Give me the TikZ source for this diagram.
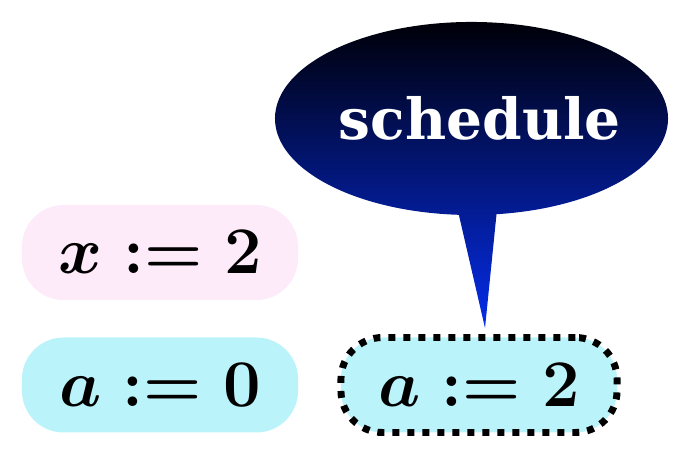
\RequirePackage{fix-cm}
\documentclass[tikz,border=0pt]{standalone}
\usepackage{amsmath,amssymb}
\usepackage{fontspec}
\usepackage{xcolor}
\usepackage{tikz}
\usetikzlibrary{positioning,shapes.callouts}
\newfontfamily\bubblefont{DejaVu Serif}
\definecolor{asgnpink}{RGB}{253,235,250}
\definecolor{asgncyan}{RGB}{186,243,250}
\definecolor{bubbletop}{RGB}{0,0,8}
\definecolor{bubblebot}{RGB}{5,45,235}
\tikzset{
  asgn/.style={rectangle, rounded corners=15pt, fill=asgncyan, minimum width=99.4pt, minimum height=34.2pt, inner sep=0pt, font=\fontsize{24}{28}\selectfont\boldmath},
  asgnx/.style={asgn, fill=asgnpink},
  pending/.style={asgn, draw=black, line width=2.5pt, dash pattern=on 2.5pt off 2.9pt},
  bubble/.style={ellipse callout, callout pointer arc=11, top color=bubbletop, bottom color=bubblebot, minimum width=141.5pt, minimum height=69.5pt, inner xsep=-20pt, inner ysep=0pt, text=white, font=\bubblefont\bfseries\fontsize{20.4}{26}\selectfont}
}

\begin{document}
\begin{tikzpicture}[x=0.36pt, y=-0.36pt]
  \useasboundingbox (0,0) rectangle (683,451);
  \node[asgnx] (x2) at (160,252.5) {$x := 2$};
  \node[asgn] (a0) at (160,385) {$a := 0$};
  \node[pending] (a2) at (479,385) {$a := 2$};
  \coordinate (tip) at (485,328);
  \node[bubble, callout absolute pointer={(tip)}] (sched) at (471.5,118.5) {\hspace{6pt}schedule};
\end{tikzpicture}
\end{document}
